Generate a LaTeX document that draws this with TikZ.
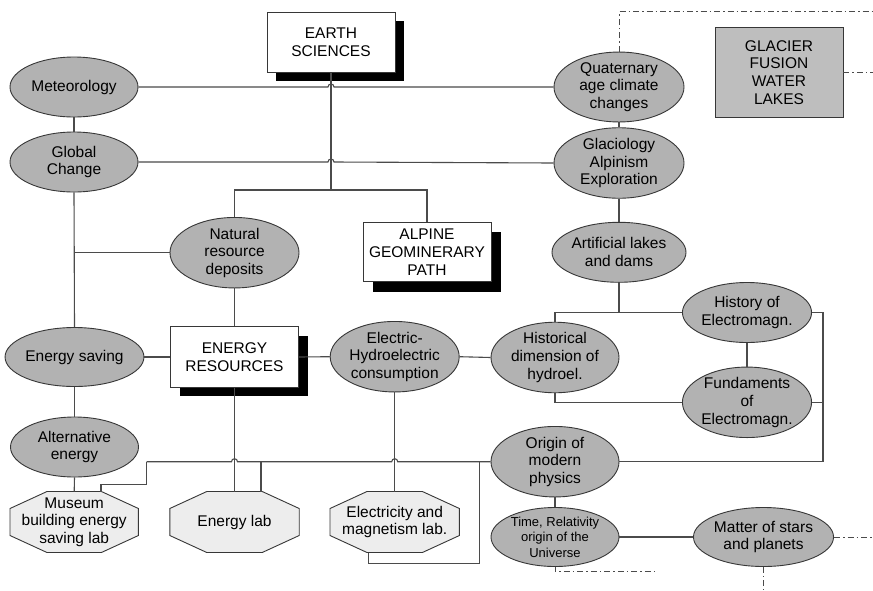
\documentclass[tikz,border=0pt]{standalone}
\usepackage{fontspec}
\setmainfont{Liberation Sans}
\usetikzlibrary{shapes.geometric,shadows,calc}
\definecolor{ellgray}{RGB}{178,178,178}
\definecolor{boxgray}{RGB}{190,190,190}
\definecolor{octgray}{RGB}{237,237,237}
\definecolor{linec}{RGB}{75,75,75}
\definecolor{edgec}{RGB}{55,55,55}
\pgfdeclarelayer{background}
\pgfsetlayers{background,main}
\newcommand\myoct[1]{\path[fill=octgray,draw=edgec,line width=0.9pt]
 ($(#1.north west)+(37,0)$) -- ($(#1.north east)+(-37,0)$) -- ($(#1.north east)+(0,17)$) --
 ($(#1.south east)+(0,-17)$) -- ($(#1.south east)+(-37,0)$) -- ($(#1.south west)+(37,0)$) --
 ($(#1.south west)+(0,-17)$) -- ($(#1.north west)+(0,17)$) -- cycle;}
\begin{document}
\begin{tikzpicture}[x=1pt,y=-1pt,
 font=\fontsize{15.5}{17.7}\selectfont,
 ell/.style={ellipse, draw=edgec, fill=ellgray, line width=0.9pt, minimum width=128pt, minimum height=60pt, inner sep=0pt, align=center},
 sbox/.style={rectangle, draw=edgec, fill=white, line width=0.9pt, minimum width=128pt, minimum height=60pt, inner sep=0pt, align=center, drop shadow={shadow xshift=#1, shadow yshift=-#1, fill=black, opacity=1}},
 sbox/.default=9pt,
 gbox/.style={rectangle, draw=edgec, fill=boxgray, line width=0.9pt, minimum width=128pt, minimum height=90pt, inner sep=0pt, align=center},
 octa/.style={rectangle, minimum width=128pt, minimum height=60.6pt, inner sep=0pt, align=center},
 conn/.style={draw=linec, line width=1.1pt},
 dashdot/.style={draw=linec, line width=1pt, dash pattern=on 6pt off 3pt on 1.5pt off 3pt}]
\useasboundingbox (0,0) rectangle (873,590);

% nodes
\node[sbox] (earth) at (331,42.3) {EARTH\\SCIENCES};
\node[ell] (met) at (74,87) {Meteorology};
\node[ell] (glob) at (74,162) {Global\\Change};
\node[ell, minimum width=130pt] (quat) at (619,87) {Quaternary\\age climate\\changes};
\node[gbox] (glac) at (779,72.3) {GLACIER\\FUSION\\WATER\\LAKES};
\node[ell, minimum width=130pt, minimum height=59pt] (glacio) at (619,163) {Glaciology\\Alpinism\\Exploration};
\node[ell, minimum width=129pt] (nat) at (234.5,252.7) {Natural\\resource\\deposits};
\node[sbox=10pt, minimum height=59.5pt] (alp) at (427,252) {ALPINE\\GEOMINERARY\\PATH};
\node[ell, minimum width=130pt] (art) at (619,252.3) {Artificial lakes\\and dams};
\node[sbox, minimum height=60.6pt] (er) at (234.5,357) {ENERGY\\RESOURCES};
\node[ell, minimum height=59pt] (es) at (74.5,357) {Energy saving};
\node[ell, minimum width=129pt] (elec) at (394.7,356.7) {Electric-\\Hydroelectric\\consumption};
\node[ell] (hist) at (555,357.5) {Historical\\dimension of\\hydroel.};
\node[ell] (histem) at (747,312.5) {History of\\Electromagn.};
\node[ell] (fund) at (747,402.3) {Fundaments\\of\\Electromagn.};
\node[ell] (alt) at (74.5,447) {Alternative\\energy};
\node[ell] (orig) at (555,461.7) {Origin of\\modern\\physics};
\node[ell, minimum height=59pt, font=\fontsize{13}{15.5}\selectfont] (time) at (555,537) {Time, Relativity\\origin of the\\Universe};
\node[ell, minimum height=59pt] (matter) at (763.5,537) {Matter of stars\\and planets};
\node[octa] (mus) at (74.2,522) {Museum\\building energy\\saving lab};
\node[octa, minimum width=129pt] (elab) at (234.5,522) {Energy lab};
\node[octa, minimum width=129pt] (emlab) at (394.7,522) {Electricity and\\magnetism lab.};

\begin{pgfonlayer}{background}
\fill[white] (0,0) rectangle (873,590);
\myoct{mus}
\myoct{elab}
\myoct{emlab}
\end{pgfonlayer}

% connectors
\coordinate (topT) at (331,190);
\coordinate (natT) at (234.5,190);
\coordinate (alpT) at (427,190);
\coordinate (globT) at (74,252.7);
\coordinate (artT) at (619,312.5);
\coordinate (histT) at (555,312.5);
\coordinate (rightR) at (823,461.7);
\coordinate (fundR) at (823,402.3);
\coordinate (busL) at (146.7,461.7);
\coordinate (busM) at (479.3,461.7);
\coordinate (elabT) at (261,461.7);

\draw[conn] (earth.south) -- (topT);
\draw[conn] (met.east) -- (328,87) arc[start angle=180, end angle=0, radius=3pt] -- (quat.west);
\draw[conn] (glob.east) -- (328,162) arc[start angle=180, end angle=0, radius=3pt] -- (glacio.west);
\draw[conn] (met.south) -- (glob.north);
\draw[conn] (glob.south) -- (es.north);
\draw[conn] (globT) -- (nat.west);
\draw[conn] (nat.north) -- (natT) -- (alpT) -- (alp.north);
\draw[conn] (nat.south) -- (er.north);
\draw[conn] (es.east) -- (er.west);
\draw[conn] (er.east) -- (elec.west);
\draw[conn] (elec.east) -- (hist.west);
\draw[conn] (quat.south) -- (glacio.north);
\draw[conn] (glacio.south) -- (art.north);
\draw[conn] (art.south) -- (artT);
\draw[conn] (hist.north) -- (histT) -- (histem.west);
\draw[conn] (histem.south) -- (fund.north);
\draw[conn] (hist.south) |- (fund.west);
\draw[conn] (histem.east) -| (rightR) -- (orig.east);
\draw[conn] (fund.east) -- (fundR);
\draw[conn] (orig.south) -- (time.north);
\draw[conn] (time.east) -- (matter.west);
\draw[conn] (es.south) -- (alt.north);
\draw[conn] (alt.south) -- (mus.north);
\draw[conn] (er.south) -- (elab.north);
\draw[conn] (elec.south) -- (emlab.north);
\draw[conn] (busL) -- (231.5,461.7) arc[start angle=180, end angle=0, radius=3pt]
  -- (391.7,461.7) arc[start angle=180, end angle=0, radius=3pt] -- (orig.west);
\draw[conn] (busL) -- (146.7,484.3) -- (101,484.3) -- ($(mus.north)+(26.8,0)$);
\draw[conn] (elabT) -- ($(elab.north)+(26.5,0)$);
\draw[conn] ($(emlab.south)+(-26.4,0)$) -- ++(0,11) -| (busM);

% dash-dot continuations
\draw[dashdot] (quat.north) -- (619,11.7) -- (873,11.7);
\draw[dashdot] (glac.east) -- (873,72.3);
\draw[dashdot] (matter.east) -- (873,537);
\draw[dashdot] (matter.south) -- (763.5,590);
\draw[dashdot] (time.south) -- (555,571.7) -- (655,571.7);
\end{tikzpicture}
\end{document}
